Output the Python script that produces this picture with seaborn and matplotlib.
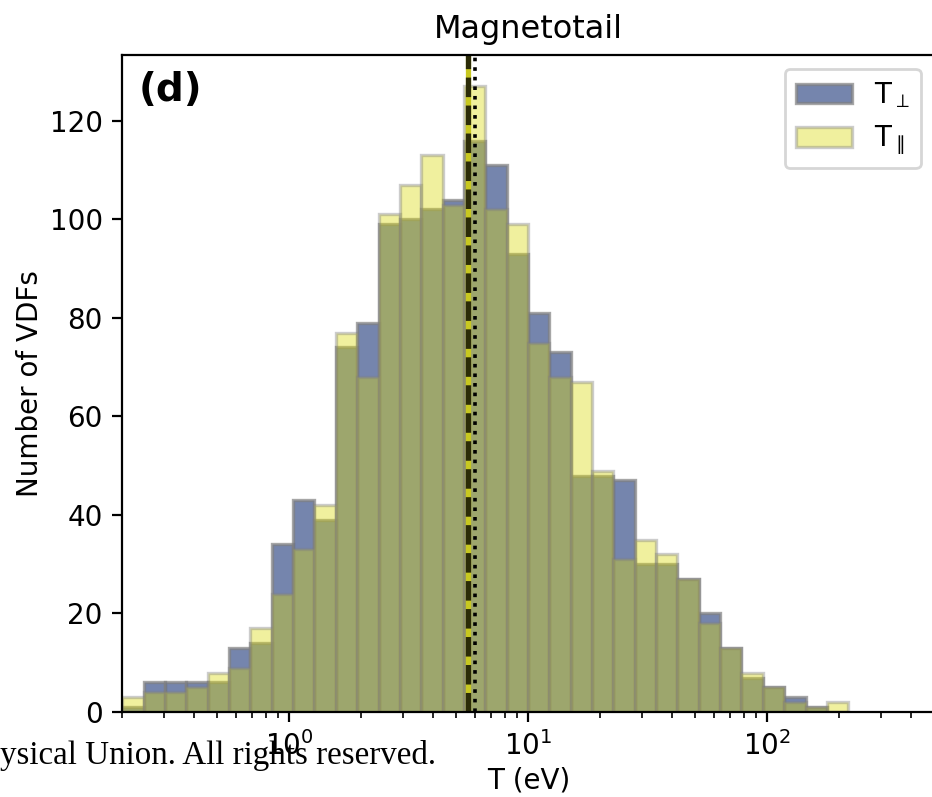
import numpy as np
import pandas as pd
import matplotlib
matplotlib.use("Agg")
import matplotlib.pyplot as plt
import seaborn as sns

# Counts of VDFs per logarithmic temperature bin (34 bins, 0.2 eV .. 218 eV)
bin_min_eV = 0.2
bin_max_eV = 218.0
n_bins = 34
T_perp_counts = [1, 6, 6, 6, 6, 13, 14, 34, 43, 39, 74, 79, 99, 100, 102, 104, 116,
                 111, 93, 81, 73, 48, 48, 47, 30, 30, 27, 20, 13, 7, 5, 3, 1, 0]
T_par_counts = [3, 4, 4, 5, 8, 9, 17, 24, 33, 42, 77, 68, 101, 107, 113, 103, 127,
                102, 99, 75, 68, 67, 49, 31, 35, 32, 27, 18, 13, 8, 5, 2, 1, 2]

# Reference temperatures marked with vertical lines (eV)
median_T_par = 5.57
median_T_perp = 5.57
mean_T_ref = 6.01

series_labels = [r"T$_\perp$", r"T$_\parallel$"]
title = "Magnetotail"
panel_tag = "(d)"
x_label = "T (eV)"
y_label = "Number of VDFs"
x_limits = (0.2, 500)
footer = "ysical Union. All rights reserved."

edges = [float(e) for e in np.geomspace(bin_min_eV, bin_max_eV, n_bins + 1)]
centers = np.sqrt(np.array(edges[:-1]) * np.array(edges[1:]))
df = pd.DataFrame({"T": centers, "perp": T_perp_counts, "par": T_par_counts})

fig = plt.figure(figsize=(4.66, 3.985), dpi=200)
ax = fig.add_axes([0.1312, 0.10665, 0.8714, 0.8243])

# Translucent bars: the edges share each series' transparency
sns.histplot(data=df, x="T", weights="perp", bins=edges, color="#3b528b",
             alpha=0.7, edgecolor=(0.5, 0.5, 0.5, 0.7), linewidth=1.2,
             label=series_labels[0], ax=ax)
sns.histplot(data=df, x="T", weights="par", bins=edges, color="#dada0d",
             alpha=0.4, edgecolor=(0.5, 0.5, 0.5, 0.4), linewidth=1.2,
             label=series_labels[1], ax=ax)

ax.set_xscale("log")
ax.set_xlim(*x_limits)

ax.axvline(median_T_par, color="#c8c820", lw=1.9)
ax.axvline(median_T_perp, color="k", ls="--", lw=1.9, alpha=0.78)
ax.axvline(mean_T_ref, color="k", ls=":", lw=1.3)

ax.set_title(title, fontsize=11.5)
ax.set_xlabel(x_label, fontsize=10, labelpad=2)
ax.set_ylabel(y_label, fontsize=10, labelpad=2)
ax.tick_params(labelsize=10)
ax.text(0.02, 0.975, panel_tag, transform=ax.transAxes, fontsize=14,
        fontweight="bold", ha="left", va="top")
ax.legend(loc="upper right", fontsize=10)

fig.text(0.0, 0.0414, footer, family="Liberation Serif", fontsize=11.9,
         ha="left", va="baseline")

fig.savefig("out.png", dpi=200)
